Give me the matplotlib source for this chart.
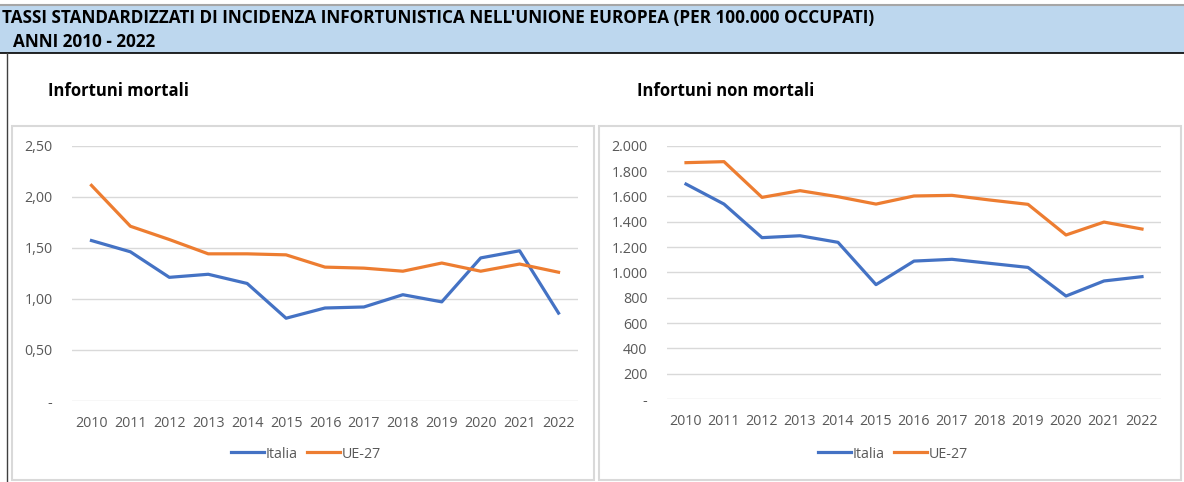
import matplotlib.pyplot as plt
from matplotlib.patches import Rectangle
from matplotlib.lines import Line2D
from matplotlib.ticker import FuncFormatter

plt.rcParams['font.family'] = ['Open Sans', 'DejaVu Sans']

# data
years = [2010, 2011, 2012, 2013, 2014, 2015, 2016, 2017, 2018, 2019, 2020, 2021, 2022]
mortali_italia = [1.57, 1.46, 1.21, 1.24, 1.15, 0.81, 0.91, 0.92, 1.04, 0.97, 1.40, 1.47, 0.86]
mortali_ue27 = [2.11, 1.71, 1.58, 1.44, 1.44, 1.43, 1.31, 1.30, 1.27, 1.35, 1.27, 1.34, 1.26]
nonmortali_italia = [1697, 1539, 1274, 1289, 1237, 903, 1089, 1103, 1071, 1039, 813, 932, 966]
nonmortali_ue27 = [1866, 1874, 1592, 1645, 1597, 1539, 1603, 1608, 1571, 1537, 1295, 1397, 1342]
left_ticks = [0, 0.5, 1.0, 1.5, 2.0, 2.5]
right_ticks = [0, 200, 400, 600, 800, 1000, 1200, 1400, 1600, 1800, 2000]

W, H = 1184, 482
BLUE = '#4472C4'
ORANGE = '#ED7D31'
GREY_TXT = '#595959'
GRID = '#D9D9D9'

fig = plt.figure(figsize=(W / 100, H / 100), dpi=100)


def box(x0, y0, x1, y1):
    # pixel box (top-left origin) -> figure fraction
    return [x0 / W, 1 - y1 / H, (x1 - x0) / W, (y1 - y0) / H]


# header band
fig.patches.append(Rectangle((0, 1 - 53 / H), 1, 48 / H, transform=fig.transFigure,
                             facecolor='#BDD7EE', edgecolor='none', zorder=0))
fig.add_artist(Line2D([0, 1], [1 - 5 / H, 1 - 5 / H], color='#A6A6A6', lw=1.5))
fig.add_artist(Line2D([0, 1], [1 - 53 / H, 1 - 53 / H], color='black', lw=1.2))
fig.add_artist(Line2D([7 / W, 7 / W], [0, 1 - 53 / H], color='#404040', lw=1))
fig.text(2 / W, 1 - 18 / H, "TASSI STANDARDIZZATI DI INCIDENZA INFORTUNISTICA NELL'UNIONE EUROPEA (PER 100.000 OCCUPATI)",
         fontsize=12.3, fontweight='bold', va='center', ha='left')
fig.text(13 / W, 1 - 42 / H, "ANNI 2010 - 2022", fontsize=12.3, fontweight='bold', va='center', ha='left')

# subtitles
fig.text(48 / W, 1 - 91 / H, "Infortuni mortali", fontsize=12, fontweight='bold', va='center')
fig.text(637 / W, 1 - 91 / H, "Infortuni non mortali", fontsize=12, fontweight='bold', va='center')

# chart frames
for x0, x1 in [(12, 594), (599, 1181)]:
    fig.patches.append(Rectangle((x0 / W, 1 - 480 / H), (x1 - x0) / W, (480 - 126) / H,
                                 transform=fig.transFigure, facecolor='white',
                                 edgecolor=GRID, lw=1.5, zorder=1))


def draw(rect, italia, ue, ticks, fmt, legend_x):
    ax = fig.add_axes(rect, zorder=2)
    ax.patch.set_alpha(0)
    x = list(range(len(years)))
    ax.plot(x, italia, color=BLUE, lw=2.3, solid_joinstyle='round', label='Italia')
    ax.plot(x, ue, color=ORANGE, lw=2.3, solid_joinstyle='round', label='UE-27')
    ax.set_xlim(-0.5, len(years) - 0.5)
    ax.set_ylim(ticks[0], ticks[-1])
    ax.set_yticks(ticks)
    ax.yaxis.set_major_formatter(FuncFormatter(fmt))
    ax.set_xticks(x)
    ax.set_xticklabels([str(y) for y in years])
    ax.grid(axis='y', color=GRID, lw=1)
    ax.set_axisbelow(True)
    for s in ax.spines.values():
        s.set_visible(False)
    ax.tick_params(length=0, labelsize=10.3, colors=GREY_TXT)
    ax.tick_params(axis='x', pad=11)
    ax.tick_params(axis='y', pad=14)
    ax.legend(loc='center', bbox_to_anchor=(legend_x, 1 - 454 / H), bbox_transform=fig.transFigure,
              ncol=2, frameon=False, fontsize=10.3, labelcolor=GREY_TXT, handlelength=2.3,
              handletextpad=0.15, columnspacing=0.65)
    return ax


def fmt_left(v, pos):
    return '-' if v == 0 else f'{v:.2f}'.replace('.', ',')


def fmt_right(v, pos):
    return '-' if v == 0 else f'{int(v):,}'.replace(',', '.')


draw(box(72, 145.5, 578, 401), mortali_italia, mortali_ue27, left_ticks, fmt_left, 306 / W)
draw(box(667, 145.7, 1161, 399), nonmortali_italia, nonmortali_ue27, right_ticks, fmt_right, 893 / W)

fig.savefig('out.png', dpi=100, facecolor='white')
